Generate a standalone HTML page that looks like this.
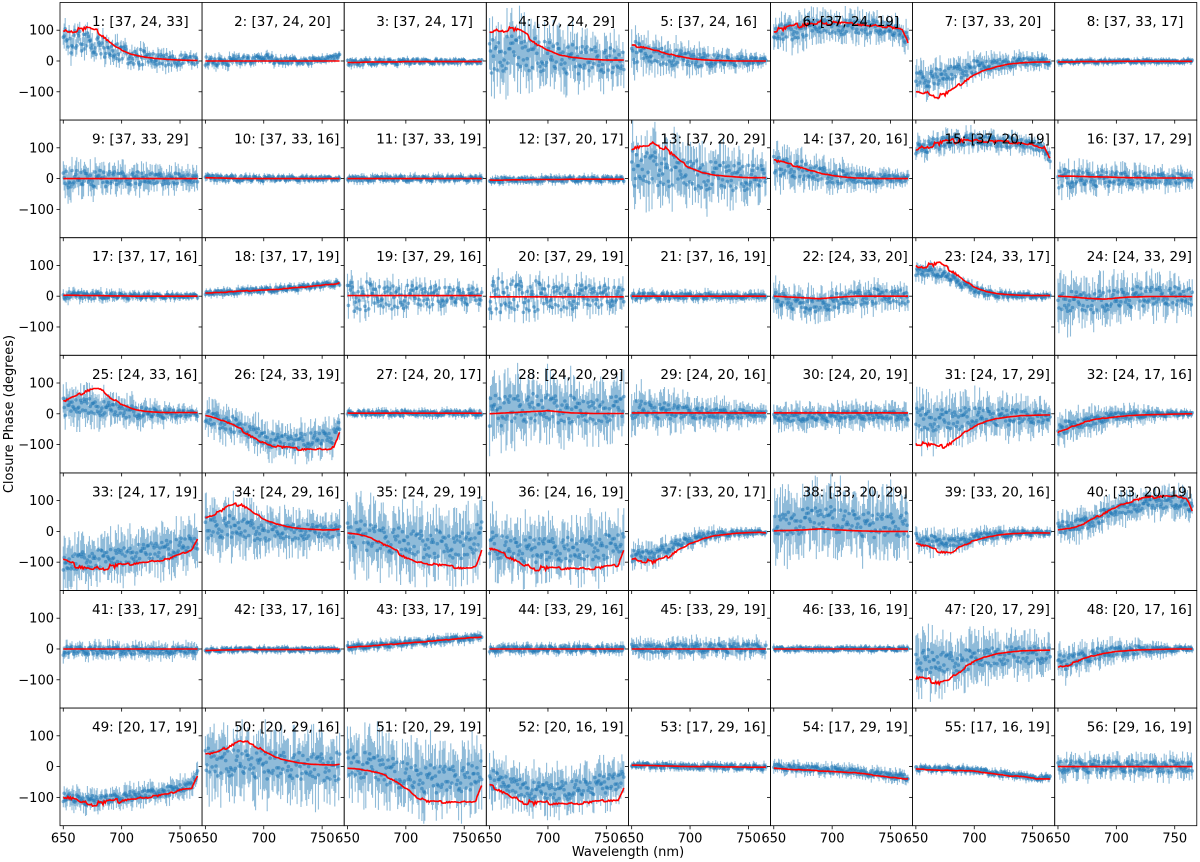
<!DOCTYPE html>
<html><head><meta charset="utf-8"><style>
html,body{margin:0;padding:0;background:#fff;}
svg{display:block;font-family:"DejaVu Sans","Liberation Sans",sans-serif;}
</style></head><body>
<svg id="fig" width="1200" height="862" viewBox="0 0 1200 862" xmlns="http://www.w3.org/2000/svg">
<text x="0" y="0" transform="translate(13,414) rotate(-90)" text-anchor="middle" font-size="13">Closure Phase (degrees)</text>
<text x="628" y="856" text-anchor="middle" font-size="13">Wavelength (nm)</text>
</svg>
<script>
const wl = [650,660,670,680,690,700,710,720,730,740,750,760,765];
const titles = ["1: [37, 24, 33]","2: [37, 24, 20]","3: [37, 24, 17]","4: [37, 24, 29]","5: [37, 24, 16]","6: [37, 24, 19]","7: [37, 33, 20]","8: [37, 33, 17]","9: [37, 33, 29]","10: [37, 33, 16]","11: [37, 33, 19]","12: [37, 20, 17]","13: [37, 20, 29]","14: [37, 20, 16]","15: [37, 20, 19]","16: [37, 17, 29]","17: [37, 17, 16]","18: [37, 17, 19]","19: [37, 29, 16]","20: [37, 29, 19]","21: [37, 16, 19]","22: [24, 33, 20]","23: [24, 33, 17]","24: [24, 33, 29]","25: [24, 33, 16]","26: [24, 33, 19]","27: [24, 20, 17]","28: [24, 20, 29]","29: [24, 20, 16]","30: [24, 20, 19]","31: [24, 17, 29]","32: [24, 17, 16]","33: [24, 17, 19]","34: [24, 29, 16]","35: [24, 29, 19]","36: [24, 16, 19]","37: [33, 20, 17]","38: [33, 20, 29]","39: [33, 20, 16]","40: [33, 20, 19]","41: [33, 17, 29]","42: [33, 17, 16]","43: [33, 17, 19]","44: [33, 29, 16]","45: [33, 29, 19]","46: [33, 16, 19]","47: [20, 17, 29]","48: [20, 17, 16]","49: [20, 17, 19]","50: [20, 29, 16]","51: [20, 29, 19]","52: [20, 16, 19]","53: [17, 29, 16]","54: [17, 29, 19]","55: [17, 16, 19]","56: [29, 16, 19]"];
const Z=[0,0,0,0,0,0,0,0,0,0,0,0,0];
const models = [
[95,100,105,95,60,35,20,12,8,5,3,2,2],Z,[-5,-5,-3,-3,-3,-2,-2,-2,-2,-2,-2,-2,-2],
[95,100,105,90,55,35,20,12,8,5,3,3,3],[50,45,35,25,15,8,4,2,1,0,0,0,0],
[100,105,115,120,125,125,122,120,115,115,110,100,60],[-100,-105,-115,-100,-70,-45,-28,-18,-10,-6,-4,-3,-3],
[-3,-3,-2,-2,-2,-1,-1,-1,-1,-1,-1,-1,-1],Z,[3,2,1,0,0,0,0,0,0,0,0,0,0],Z,
[-5,-5,-4,-4,-3,-3,-3,-2,-2,-2,-2,-2,-2],[100,105,115,95,60,35,20,12,8,5,3,3,3],
[60,50,40,28,18,10,5,2,1,0,0,0,0],[95,105,115,120,125,125,122,120,118,115,110,100,65],
[8,8,7,6,5,4,3,3,2,2,2,2,2],[3,3,2,2,1,1,0,0,0,0,0,0,0],[10,12,14,16,18,20,22,25,28,32,36,40,42],
[2,2,2,2,2,2,2,2,2,2,2,2,2],[-2,-2,-2,-2,-2,-2,-2,-2,-2,-2,-2,-2,-2],Z,
[0,-2,-4,-6,-8,-5,-2,0,0,0,0,0,0],[95,100,105,85,55,30,15,8,5,3,2,2,2],
[0,-2,-5,-8,-10,-6,-3,-2,-1,-1,-1,-1,-1],[40,55,75,85,55,30,15,8,5,4,4,4,4],
[-5,-15,-30,-50,-75,-95,-105,-110,-115,-115,-115,-110,-60],[2,2,2,2,2,2,2,2,2,2,2,2,2],
[0,2,4,6,8,10,6,3,2,1,1,1,1],[3,3,3,3,3,3,3,3,3,3,3,3,3],[3,3,3,3,3,3,3,3,3,3,3,3,3],
[-95,-100,-110,-95,-65,-40,-25,-15,-10,-6,-5,-4,-4],[-60,-45,-30,-20,-14,-10,-6,-4,-3,-2,-1,0,0],
[-95,-110,-120,-120,-115,-110,-105,-100,-95,-90,-75,-60,-25],[45,60,80,90,65,40,25,15,10,7,5,5,7],
[-5,-10,-20,-40,-60,-85,-100,-105,-110,-115,-120,-115,-60],[-55,-70,-90,-110,-120,-120,-120,-120,-120,-120,-115,-110,-60],
[-90,-95,-100,-85,-60,-40,-25,-15,-10,-6,-4,-3,-5],[2,3,4,6,8,6,4,2,1,0,0,0,0],
[-40,-50,-65,-70,-45,-30,-20,-12,-8,-6,-5,-5,-5],[5,10,20,40,60,80,95,105,110,115,115,110,65],
Z,[-5,-4,-3,-2,-2,-2,-2,-2,-2,-2,-1,-1,-1],[5,8,10,13,16,19,22,25,28,32,35,38,40],Z,Z,Z,
[-95,-100,-110,-95,-65,-40,-25,-15,-10,-6,-5,-4,-4],[-60,-50,-35,-22,-14,-8,-5,-3,-2,-1,0,0,0],
[-95,-105,-120,-120,-115,-110,-105,-100,-95,-90,-75,-70,-30],[40,45,65,85,75,50,30,20,12,8,6,5,8],
[-5,-8,-15,-25,-45,-70,-100,-115,-115,-115,-115,-110,-60],[-60,-80,-100,-115,-120,-120,-120,-120,-118,-115,-110,-110,-70],
[5,4,3,2,1,0,0,0,-1,-1,-2,-2,-2],[-5,-8,-10,-12,-14,-16,-18,-20,-25,-30,-35,-38,-40],
[-8,-10,-12,-12,-13,-15,-20,-25,-30,-32,-38,-40,-40],Z];
const dataMeans = {
1:[65,65,60,50,35,25,15,10,6,5,3,2,2],2:[0,-5,0,5,0,15,0,0,0,0,5,12,18],
4:[20,25,30,25,20,15,10,5,5,5,0,0,0],5:[30,25,20,15,10,5,3,2,1,0,0,0,0],
6:[90,95,100,110,115,115,110,110,110,110,100,90,70],7:[-60,-60,-50,-40,-30,-20,-15,-10,-5,-3,-2,-2,-2],
13:[30,30,35,30,25,20,15,10,10,5,5,5,5],14:[40,35,30,20,15,8,5,3,1,0,0,0,0],
16:Z,19:Z,20:Z,22:[-10,-15,-20,-30,-30,-20,-10,-5,0,0,0,0,-5],23:[80,80,75,60,40,22,10,5,3,2,1,0,0],
24:[-10,-15,-20,-20,-15,-10,-5,0,0,0,0,0,-5],25:[20,25,30,20,15,10,5,3,2,0,0,0,0],
26:[-10,-20,-30,-45,-60,-75,-90,-90,-90,-85,-80,-70,-50],28:[10,10,15,15,20,20,15,15,10,10,15,20,20],
29:[15,15,10,10,5,5,0,0,0,0,0,0,0],30:[-10,-10,-10,-10,-10,-10,-5,-5,-5,-5,-5,-5,-5],
31:[-10,-15,-20,-20,-15,-10,-10,-10,-10,-10,-10,-10,-10],32:[-50,-40,-30,-20,-12,-8,-5,-3,-2,-1,0,0,0],
33:[-110,-100,-90,-90,-80,-80,-70,-70,-60,-60,-50,-40,-30],34:[10,10,15,10,5,0,0,0,0,0,0,0,0],
35:[0,-10,-20,-30,-30,-40,-40,-40,-40,-50,-40,-20,-10],36:[-40,-50,-60,-60,-60,-60,-60,-60,-60,-50,-50,-40,-30],
37:[-80,-80,-75,-55,-40,-28,-18,-12,-8,-5,-4,-3,-4],38:[20,30,30,40,40,40,30,30,20,20,20,20,20],
39:[-25,-30,-35,-35,-30,-20,-15,-10,-8,-5,-5,-5,-5],40:[10,15,25,35,55,70,80,85,90,95,95,90,70],
41:[-5,-5,-5,-5,-5,-5,-5,-5,-5,-5,-5,-5,-5],45:[3,3,3,3,3,3,3,3,3,3,3,3,3],
47:[-30,-40,-45,-45,-40,-30,-25,-20,-20,-20,-20,-20,-20],48:[-45,-40,-30,-20,-12,-8,-5,-3,-2,-1,0,0,0],
49:[-100,-105,-110,-110,-105,-100,-95,-90,-85,-80,-70,-60,-20],50:[20,15,15,10,10,5,5,5,0,0,0,0,0],
51:[20,10,0,-10,-20,-30,-40,-40,-40,-40,-40,-30,-10],52:[-40,-50,-60,-70,-80,-80,-80,-75,-70,-60,-55,-50,-40],
54:[0,-3,-5,-7,-9,-11,-13,-15,-20,-25,-30,-33,-35],55:[-5,-7,-9,-9,-10,-12,-17,-22,-27,-29,-35,-37,-37]};
const scatter = [[40,15],[15,8],[10,6],[60,40],[35,10],[30,20],[30,10],[5,5],[30,15],[10,6],[8,8],[8,8],[60,40],[35,10],[20,15],[30,15],[12,6],[8,8],[50,25],[60,30],[12,6],[25,25],[15,6],[35,30],[30,10],[25,25],[8,8],[50,40],[30,10],[15,15],[40,20],[20,5],[30,30],[40,20],[45,45],[40,40],[20,5],[40,40],[20,6],[20,20],[15,10],[6,6],[8,8],[10,10],[15,15],[6,6],[40,25],[25,6],[15,15],[45,45],[45,45],[30,30],[8,8],[10,10],[8,8],[20,20]];
const errs = [[35,18],[18,10],[12,8],[90,55],[50,18],[45,35],[45,18],[10,10],[45,30],[12,10],[12,12],[12,12],[90,55],[55,18],[30,22],[40,25],[18,10],[12,12],[35,25],[35,35],[15,15],[45,30],[25,10],[70,45],[60,18],[45,45],[12,12],[90,70],[60,25],[35,35],[70,45],[45,10],[65,65],[80,45],[90,90],[80,80],[35,10],[90,90],[35,12],[40,40],[22,22],[10,10],[15,15],[15,15],[25,25],[10,10],[80,50],[45,10],[30,30],[90,90],[90,90],[60,60],[12,12],[18,18],[12,12],[30,30]];
const jitter = [0.3,-0.7,0.9,-0.2,0.5,-0.9,0.1,0.8,-0.4,-0.6,0.7,0.2,-1.0,0.4,-0.3,0.6,-0.8,0.0,0.9,-0.5,0.3,-0.1,0.7,-0.7,0.5,-0.4,1.0,-0.9,0.2,0.6,-0.2,-0.6,0.8,0.1,-0.8,0.4,-0.3,0.9,-0.5,0.0,0.6,-1.0,0.3,0.7,-0.4,0.2,-0.7];
const yTicks = [-100,0,100];
const xTicks = [650,700,750];

const NS='http://www.w3.org/2000/svg';
const svg=document.getElementById('fig');
const X0=60, W=142.1, Y0=2.5, H=117.6, XMIN=647.2, XMAX=768.9, YMIN=-192, YMAX=190;
function mk(tag,attrs,parent){const e=document.createElementNS(NS,tag);for(const k in attrs)e.setAttribute(k,attrs[k]);(parent||svg).appendChild(e);return e;}
function interp(arr,w){for(let i=0;i<wl.length-1;i++){if(w<=wl[i+1]){const t=(w-wl[i])/(wl[i+1]-wl[i]);return arr[i]+t*(arr[i+1]-arr[i]);}}return arr[arr.length-1];}
const JL=jitter.length;
const NPTS=140;
for(let p=0;p<56;p++){
  const r=Math.floor(p/8), c=p%8;
  const ax0=X0+c*W, ay0=Y0+r*H;
  const xs=w=>ax0+(w-XMIN)/(XMAX-XMIN)*W;
  const ys=v=>ay0+(YMAX-v)/(YMAX-YMIN)*H;
  const g=mk('g',{});
  
  
  const cid='clip'+p;
  const cp=mk('clipPath',{id:cid},g);
  mk('rect',{x:ax0,y:ay0,width:W,height:H},cp);
  const pg=mk('g',{'clip-path':'url(#'+cid+')'},g);
  const dm=dataMeans[p+1]||models[p];
  const sc=scatter[p], er=errs[p];
  let ep='';
  const pts=mk('g',{fill:'#1f77b4','fill-opacity':'0.55'},pg);
  
  
  const step=(765-650)/(NPTS-1);
  const cps=[];
  for(let i=0;i<NPTS;i++){
    const w=650+i*step, t=i/(NPTS-1);
    const j=jitter[(i*13+p*5+(i>>2))%JL];
    const a=sc[0]+(sc[1]-sc[0])*t;
    const v=interp(dm,w)+a*j;
    const e=(er[0]+(er[1]-er[0])*t)*(0.45+0.8*Math.abs(jitter[(i*5+p*3+(i>>3))%JL]));
    const x=xs(w).toFixed(1);
    ep+='M'+x+' '+ys(v+e).toFixed(1)+'V'+ys(v-e).toFixed(1);
    cps.push([x,ys(v).toFixed(1)]);
  }
  const eb=mk('path',{d:ep,stroke:'#1f77b4','stroke-opacity':'0.5','stroke-width':'1.1',fill:'none'},pg);
  
  
  pg.appendChild(pts);
  for(const [x,y] of cps){mk('circle',{cx:x,cy:y,r:'1.8'},pts);}
  let md='';
  for(let i=0;i<=115;i++){const w=650+i;const base=interp(models[p],w);
    const wig=Math.min(12,Math.abs(base)*0.07)*jitter[(i*11+p)%JL]*(w<700?1:0.5);
    md+=(i?'L':'M')+xs(w).toFixed(1)+' '+ys(base+wig).toFixed(1);}
  const ml=mk('path',{d:md,stroke:'#ff0000','stroke-width':'1.6',fill:'none'},pg);
  
  
  const fr=mk('rect',{x:ax0,y:ay0,width:W,height:H,fill:'none',stroke:'#000','stroke-width':'0.8'},g);
  
  
  for(const tv of yTicks){
    const y=ys(tv);
    mk('line',{x1:ax0-3.5,x2:ax0,y1:y,y2:y,stroke:'#000','stroke-width':'0.8'},g);
    if(c===0){const tl=mk('text',{x:ax0-6,y:y+4.5,'text-anchor':'end','font-size':'13'},g);tl.textContent=(tv<0?'\u2212':'')+Math.abs(tv);
      
      }
  }
  for(const tv of xTicks){
    const x=xs(tv);
    mk('line',{x1:x,x2:x,y1:ay0+H,y2:ay0+H+3.5,stroke:'#000','stroke-width':'0.8'},g);
    if(r===6){const tl=mk('text',{x:x,y:ay0+H+17,'text-anchor':'middle','font-size':'13'},g);tl.textContent=tv;
      
      }
  }
  const tt=mk('text',{x:ax0+32,y:ay0+23.5,'font-size':'13.5'},g);
  tt.textContent=titles[p];
  
  
}
</script>
</body></html>
